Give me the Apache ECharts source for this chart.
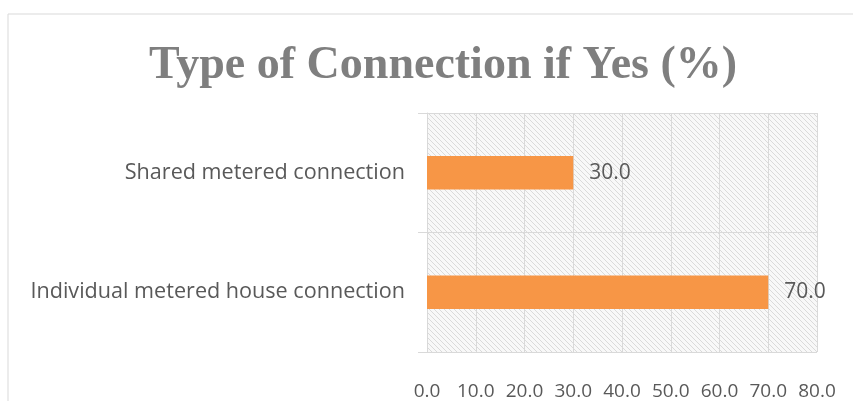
<!DOCTYPE html>
<html><head><meta charset="utf-8">
<script src="https://cdn.jsdelivr.net/npm/echarts@6/dist/echarts.min.js"></script>
<style>html,body{margin:0;padding:0;background:#fff}#c{width:853px;height:401px}</style>
</head><body><div id="c"></div>
<script>
const categories = ['Individual metered house connection', 'Shared metered connection'];
const values = [70.0, 30.0];
const xTicks = [0, 10, 20, 30, 40, 50, 60, 70, 80];

function hatch() {
  const cv = document.createElement('canvas');
  cv.width = 5; cv.height = 5;
  const g = cv.getContext('2d');
  g.fillStyle = '#f8f8f8'; g.fillRect(0, 0, 5, 5);
  g.strokeStyle = '#dadada'; g.lineWidth = 1;
  g.beginPath();
  g.moveTo(0, 0); g.lineTo(5, 5);
  g.moveTo(-2.5, 2.5); g.lineTo(2.5, 7.5);
  g.moveTo(2.5, -2.5); g.lineTo(7.5, 2.5);
  g.stroke();
  return cv;
}

const chart = echarts.init(document.getElementById('c'));
chart.setOption({
  animation: false,
  backgroundColor: '#fff',
  title: {
    text: 'Type of Connection if Yes (%)',
    left: 144, top: 38,
    textStyle: { fontFamily: 'Liberation Serif', fontWeight: 'bold', fontSize: 46, color: '#7f7f7f' }
  },
  graphic: [{
    type: 'rect', shape: { x: 8, y: 14, width: 860, height: 400 },
    style: { fill: 'none', stroke: '#d9d9d9', lineWidth: 1 }, silent: true
  }],
  grid: {
    left: 427, right: 36, top: 113, bottom: 49,
    show: true, borderWidth: 0,
    backgroundColor: { image: hatch(), repeat: 'repeat' }
  },
  xAxis: {
    type: 'value', min: 0, max: 80, interval: 10,
    axisLine: { show: false }, axisTick: { show: false },
    splitLine: { show: true, lineStyle: { color: '#d9d9d9', width: 1 } },
    axisLabel: {
      margin: 30, fontFamily: 'Open Sans', fontSize: 19, color: '#595959',
      formatter: v => xTicks.includes(v) ? v.toFixed(1) : ''
    }
  },
  yAxis: {
    type: 'category', data: categories,
    axisLine: { show: true, lineStyle: { color: '#d9d9d9' } },
    axisTick: { show: true, length: 9, lineStyle: { color: '#d9d9d9' } },
    splitLine: { show: true, lineStyle: { color: '#d9d9d9' } },
    axisLabel: { margin: 22, fontFamily: 'Open Sans', fontSize: 21.6, color: '#595959' }
  },
  series: [{
    type: 'bar', data: values, barCategoryGap: '72%',
    itemStyle: { color: '#f79646' },
    label: {
      show: true, position: 'right', distance: 16,
      fontFamily: 'Open Sans', fontSize: 21, color: '#595959',
      formatter: p => p.value.toFixed(1)
    }
  }]
});
</script></body></html>
